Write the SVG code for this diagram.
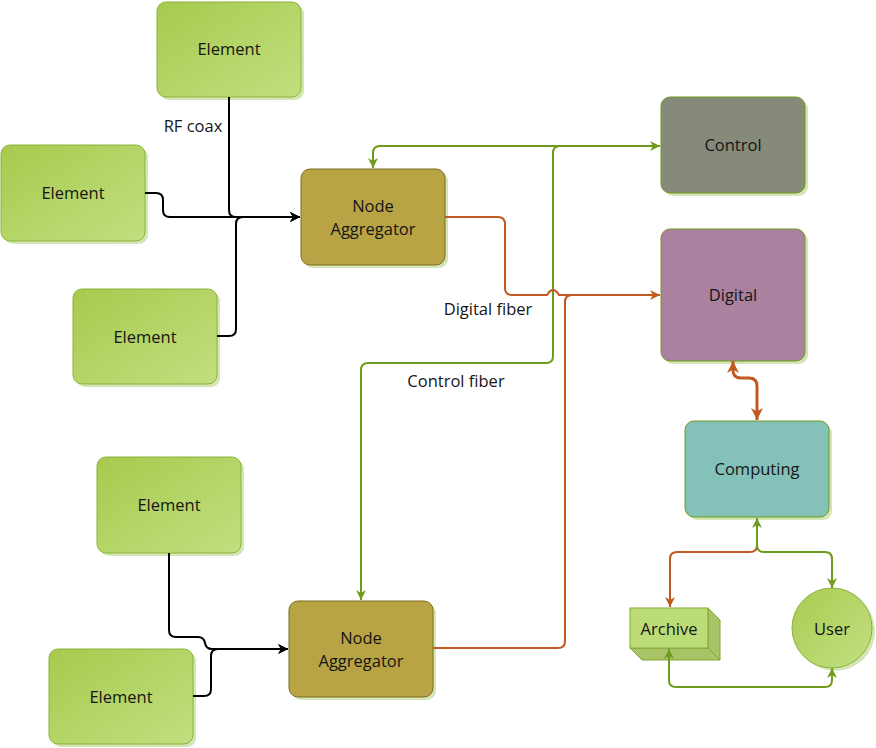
<svg xmlns="http://www.w3.org/2000/svg" width="876" height="748" viewBox="0 0 876 748">
<defs>
<linearGradient id="gEl" x1="0" y1="0" x2="1" y2="1">
<stop offset="0" stop-color="#a7ca4e"/>
<stop offset="1" stop-color="#c2df7f"/>
</linearGradient>
<linearGradient id="gUser" x1="0" y1="0" x2="1" y2="1">
<stop offset="0" stop-color="#a9cb52"/>
<stop offset="1" stop-color="#c3e081"/>
</linearGradient>
<marker id="aG" viewBox="0 0 10 10" refX="10" refY="5" markerWidth="11" markerHeight="10" markerUnits="userSpaceOnUse" orient="auto-start-reverse">
<path d="M0,0 L10,5 L0,10 L3,5 Z" fill="#6f9b1c"/>
</marker>
<marker id="aO" viewBox="0 0 10 10" refX="10" refY="5" markerWidth="11" markerHeight="10" markerUnits="userSpaceOnUse" orient="auto-start-reverse">
<path d="M0,0 L10,5 L0,10 L3,5 Z" fill="#c05a22"/>
</marker>
<marker id="aOT" viewBox="0 0 10 10" refX="10" refY="5" markerWidth="13" markerHeight="12" markerUnits="userSpaceOnUse" orient="auto-start-reverse">
<path d="M0,0 L10,5 L0,10 L3,5 Z" fill="#c05a22"/>
</marker>
<marker id="aK" viewBox="0 0 10 10" refX="10" refY="5" markerWidth="11" markerHeight="10" markerUnits="userSpaceOnUse" orient="auto">
<path d="M0,0 L10,5 L0,10 L3,5 Z" fill="#000"/>
</marker>
</defs>
<style>
text{font-family:"Open Sans","Noto Sans","Liberation Sans",sans-serif;font-size:16.5px;fill:#151515;text-anchor:middle;dominant-baseline:central}
.sh{fill:#d5e6b6}
.el{fill:url(#gEl);stroke:#8bb23a;stroke-width:1}
.ag{fill:#b8a445;stroke:#7c6a1f;stroke-width:1}
.ctl{fill:#858a7a;stroke:#6f9b1c;stroke-width:1}
.dig{fill:#aa819e;stroke:#6f9b1c;stroke-width:1}
.cmp{fill:#84c1b8;stroke:#6f9b1c;stroke-width:1}
.c{fill:none;stroke-width:2}
.k{stroke:#000}
.g{stroke:#6f9b1c}
.o{stroke:#c05a22}
</style>

<g id="element1">
<rect class="sh" x="160" y="5" width="144" height="95" rx="9"/>
<rect class="el" x="157" y="2" width="144" height="95" rx="9"/>
<text x="229" y="48">Element</text>
</g>
<g id="element2">
<rect class="sh" x="4" y="148" width="144" height="96" rx="9"/>
<rect class="el" x="1" y="145" width="144" height="96" rx="9"/>
<text x="73" y="192">Element</text>
</g>
<g id="element3">
<rect class="sh" x="76" y="292" width="144" height="95" rx="9"/>
<rect class="el" x="73" y="289" width="144" height="95" rx="9"/>
<text x="145" y="336">Element</text>
</g>
<g id="element4">
<rect class="sh" x="100" y="460" width="144" height="96" rx="9"/>
<rect class="el" x="97" y="457" width="144" height="96" rx="9"/>
<text x="169" y="504">Element</text>
</g>
<g id="element5">
<rect class="sh" x="52" y="652" width="144" height="95" rx="9"/>
<rect class="el" x="49" y="649" width="144" height="95" rx="9"/>
<text x="121" y="696">Element</text>
</g>

<g id="aggregator1">
<rect class="sh" x="304" y="172" width="144" height="96" rx="9"/>
<rect class="ag" x="301" y="169" width="144" height="96" rx="9"/>
<text x="373" y="205">Node</text>
<text x="373" y="228">Aggregator</text>
</g>
<g id="aggregator2">
<rect class="sh" x="292" y="604" width="144" height="96" rx="9"/>
<rect class="ag" x="289" y="601" width="144" height="96" rx="9"/>
<text x="361" y="637">Node</text>
<text x="361" y="660">Aggregator</text>
</g>

<g id="control">
<rect class="sh" x="664" y="100" width="144" height="96" rx="9"/>
<rect class="ctl" x="661" y="97" width="144" height="96" rx="9"/>
<text x="733" y="144">Control</text>
</g>
<g id="digital">
<rect class="sh" x="664" y="232" width="144" height="132" rx="9"/>
<rect class="dig" x="661" y="229" width="144" height="132" rx="9"/>
<text x="733" y="294">Digital</text>
</g>
<g id="computing">
<rect class="sh" x="688" y="424" width="144" height="96" rx="9"/>
<rect class="cmp" x="685" y="421" width="144" height="96" rx="9"/>
<text x="757" y="468">Computing</text>
</g>

<g id="archive">
<polygon points="708,608 720,620 720,660 708,648" fill="#a9c466" stroke="#7fa832" stroke-width="1"/>
<polygon points="630,648 708,648 720,660 642,660" fill="#a9c466" stroke="#7fa832" stroke-width="1"/>
<rect x="630" y="608" width="78" height="40" fill="#bcdc78" stroke="#7fa832" stroke-width="1"/>
<text x="669" y="628">Archive</text>
</g>
<g id="user">
<circle cx="835" cy="631" r="40" class="sh"/>
<circle cx="832" cy="628" r="40" fill="url(#gUser)" stroke="#8bb23a" stroke-width="1"/>
<text x="832" y="628">User</text>
</g>

<g id="connectors">
<path class="c k" d="M229,97 V210 Q229,217 236,217 H300" marker-end="url(#aK)"/>
<path class="c k" d="M145,193 H156 Q163,193 163,200 V210 Q163,217 170,217 H300" marker-end="url(#aK)"/>
<path class="c k" d="M217,336 H229 Q236,336 236,329 V224 Q236,217 243,217 H300" marker-end="url(#aK)"/>
<path class="c k" d="M169,553 V630 Q169,637 176,637 H198 Q204,637 205,643 Q206,649 212,649 H288" marker-end="url(#aK)"/>
<path class="c k" d="M193,696 H204 Q211,696 211,689 V656 Q211,649 218,649 H288" marker-end="url(#aK)"/>

<path class="c g" d="M660,146 H380 Q373,146 373,153 V168" marker-start="url(#aG)" marker-end="url(#aG)"/>
<path class="c g" d="M600,146 H560 Q553,146 553,153 V356 Q553,363 546,363 H368 Q361,363 361,370 V600" marker-end="url(#aG)"/>

<path class="c o" d="M445,217 H498 Q505,217 505,224 V288 Q505,295 512,295 H547 Q553,285 559,295 H660" marker-end="url(#aO)"/>
<path class="c o" d="M433,648 H558 Q565,648 565,641 V302 Q565,295 572,295 H620"/>
<path class="c o" style="stroke-width:3" d="M733,361 V370 Q733,378 741,378 H749 Q757,378 757,386 V420" marker-start="url(#aOT)" marker-end="url(#aOT)"/>

<path class="c o" d="M757,518 V545 Q757,552 750,552 H677 Q670,552 670,559 V607" marker-end="url(#aO)"/>
<path class="c g" d="M757,518 V545 Q757,552 764,552 H825 Q832,552 832,559 V588" marker-start="url(#aG)" marker-end="url(#aG)"/>
<path class="c g" d="M669,649 V680 Q669,687 676,687 H825 Q832,687 832,680 V668" marker-start="url(#aG)" marker-end="url(#aG)"/>
</g>

<g id="labels">
<text x="193" y="125">RF coax</text>
<text x="488" y="308">Digital fiber</text>
<text x="456" y="380">Control fiber</text>
</g>
</svg>
